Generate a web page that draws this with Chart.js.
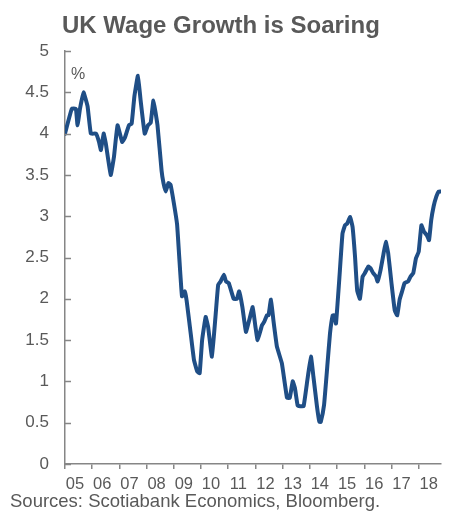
<!DOCTYPE html>
<html>
<head>
<meta charset="utf-8">
<script src="https://cdn.jsdelivr.net/npm/chart.js@4"></script>
<style>
    html, body { margin: 0; padding: 0; background: #ffffff; }
    #wrap { width: 450px; height: 511px; position: relative; }
</style>
</head>
<body>
<div id="wrap"><canvas id="wageChart"></canvas></div>
<script>
// Chart data
const chartTitle = 'UK Wage Growth is Soaring';
const sourceNote = 'Sources: Scotiabank Economics, Bloomberg.';
const unitLabel = '%';

// time position of each reading, in decimal years
const dates = [
    2005.00, 2005.25, 2005.40, 2005.46, 2005.55, 2005.68, 2005.83, 2005.95,
    2006.14, 2006.25, 2006.32, 2006.42, 2006.50, 2006.68, 2006.80, 2006.93,
    2007.10, 2007.20, 2007.35, 2007.45, 2007.55, 2007.68, 2007.78, 2007.93,
    2008.05, 2008.15, 2008.25, 2008.40, 2008.55, 2008.62, 2008.70, 2008.80, 2008.88,
    2009.00, 2009.12, 2009.20, 2009.30, 2009.40, 2009.47, 2009.62, 2009.74, 2009.86, 2009.95,
    2010.04, 2010.17, 2010.26, 2010.40, 2010.53, 2010.63, 2010.72, 2010.84, 2010.92,
    2011.02, 2011.20, 2011.32, 2011.40, 2011.52, 2011.65, 2011.77, 2011.90,
    2012.00, 2012.08, 2012.24, 2012.32, 2012.42, 2012.48, 2012.57, 2012.66, 2012.79, 2012.97,
    2013.16, 2013.26, 2013.37, 2013.45, 2013.55, 2013.65, 2013.77, 2013.91,
    2014.04, 2014.13, 2014.26, 2014.35, 2014.40, 2014.52, 2014.64, 2014.74, 2014.84, 2014.90, 2014.96,
    2015.08, 2015.20, 2015.29, 2015.37, 2015.48, 2015.57, 2015.66, 2015.74, 2015.84, 2015.94,
    2016.02, 2016.15, 2016.23, 2016.33, 2016.43, 2016.49, 2016.60, 2016.70, 2016.79, 2016.88,
    2017.00, 2017.12, 2017.21, 2017.30, 2017.40, 2017.48, 2017.61, 2017.70, 2017.80, 2017.90,
    2018.00, 2018.10, 2018.20, 2018.30, 2018.38, 2018.46, 2018.55, 2018.65, 2018.74, 2018.82
];

// wage growth, % y/y
const wageGrowth = [
    4.00, 4.30, 4.30, 4.10, 4.30, 4.50, 4.33, 4.00,
    4.00, 3.90, 3.80, 4.00, 3.88, 3.50, 3.72, 4.10,
    3.90, 3.95, 4.10, 4.12, 4.45, 4.70, 4.40, 4.00,
    4.10, 4.13, 4.40, 4.10, 3.55, 3.40, 3.30, 3.40, 3.38,
    3.16, 2.90, 2.50, 2.03, 2.09, 1.98, 1.58, 1.26, 1.12, 1.10,
    1.50, 1.78, 1.66, 1.30, 1.78, 2.17, 2.21, 2.29, 2.21,
    2.19, 2.00, 2.00, 2.09, 1.90, 1.60, 1.74, 1.90,
    1.66, 1.50, 1.68, 1.72, 1.80, 1.80, 1.99, 1.74, 1.42, 1.22,
    0.80, 0.80, 1.00, 0.92, 0.71, 0.70, 0.70, 1.02,
    1.30, 1.06, 0.70, 0.51, 0.51, 0.71, 1.18, 1.58, 1.80, 1.80, 1.70,
    2.23, 2.79, 2.89, 2.91, 2.99, 2.87, 2.51, 2.10, 2.00, 2.27,
    2.31, 2.39, 2.37, 2.31, 2.27, 2.21, 2.35, 2.53, 2.69, 2.55,
    2.19, 1.86, 1.80, 1.99, 2.10, 2.19, 2.21, 2.27, 2.31, 2.49,
    2.57, 2.89, 2.81, 2.77, 2.71, 2.95, 3.12, 3.24, 3.30, 3.30
];

// axis ranges
const yearStart = 2005;
const yearEnd = 2018.82;
const yMin = 0;
const yMax = 5;
const yStep = 0.5;

// Styles
const textColor = '#595959';
const axisColor = '#868686';
const lineColor = '#1F4E86';
const fontFamily = "'Liberation Sans', Arial, sans-serif";

// Draws title, unit, source and inward y tick marks
const annotations = {
    id: 'annotations',
    afterDraw(chart) {
        const ctx = chart.ctx;
        const area = chart.chartArea;
        const yScale = chart.scales.y;

        ctx.save();
        // inward tick marks on the value axis
        ctx.strokeStyle = axisColor;
        ctx.lineWidth = 1.5;
        yScale.ticks.forEach((t) => {
            const py = Math.round(yScale.getPixelForValue(t.value)) + 0.5;
            ctx.beginPath();
            ctx.moveTo(area.left, py);
            ctx.lineTo(area.left + 6, py);
            ctx.stroke();
        });

        ctx.fillStyle = textColor;
        ctx.textBaseline = 'alphabetic';
        ctx.textAlign = 'left';

        ctx.font = 'bold 24px ' + fontFamily;
        ctx.fillText(chartTitle, 62, 33);

        ctx.font = '16px ' + fontFamily;
        ctx.fillText(unitLabel, area.left + 6, 79);

        ctx.font = '18.5px ' + fontFamily;
        ctx.fillText(sourceNote, 10, 507);
        ctx.restore();
    }
};

const ctx = document.getElementById('wageChart').getContext('2d');

const chartConfig = {
    type: 'line',
    data: {
        datasets: [{
            label: 'UK wage growth',
            data: dates.map((d, i) => ({ x: d, y: wageGrowth[i] })),
            borderColor: lineColor,
            borderWidth: 4,
            borderJoinStyle: 'round',
            borderCapStyle: 'round',
            pointRadius: 0,
            tension: 0.1,
            fill: false
        }]
    },
    options: {
        responsive: true,
        maintainAspectRatio: false,
        animation: false,
        layout: {
            padding: { top: 51, right: 9, bottom: 0, left: 10 }
        },
        plugins: {
            legend: { display: false },
            tooltip: { enabled: false }
        },
        scales: {
            x: {
                type: 'linear',
                min: yearStart,
                max: yearEnd,
                afterFit: (scale) => { scale.height = 47; },
                border: { display: true, color: axisColor, width: 1.5 },
                grid: {
                    drawOnChartArea: false,
                    drawTicks: true,
                    tickLength: 5,
                    color: axisColor,
                    lineWidth: 1.5
                },
                ticks: {
                    stepSize: 1,
                    includeBounds: false,
                    autoSkip: false,
                    maxRotation: 0,
                    labelOffset: 10,
                    padding: 6,
                    color: textColor,
                    font: { family: fontFamily, size: 16.5 },
                    callback: function (value) {
                        if (!Number.isInteger(value)) return '';
                        return String(value % 100).padStart(2, '0');
                    }
                }
            },
            y: {
                min: yMin,
                max: yMax,
                afterFit: (scale) => { scale.width = 55; },
                border: { display: true, color: axisColor, width: 1.5 },
                grid: {
                    display: false,
                    drawTicks: false
                },
                ticks: {
                    stepSize: yStep,
                    padding: 16,
                    color: textColor,
                    font: { family: fontFamily, size: 17 },
                    callback: function (value) {
                        return String(Math.round(value * 10) / 10);
                    }
                }
            }
        }
    },
    plugins: [annotations]
};

const wageChart = new Chart(ctx, chartConfig);
</script>
</body>
</html>
